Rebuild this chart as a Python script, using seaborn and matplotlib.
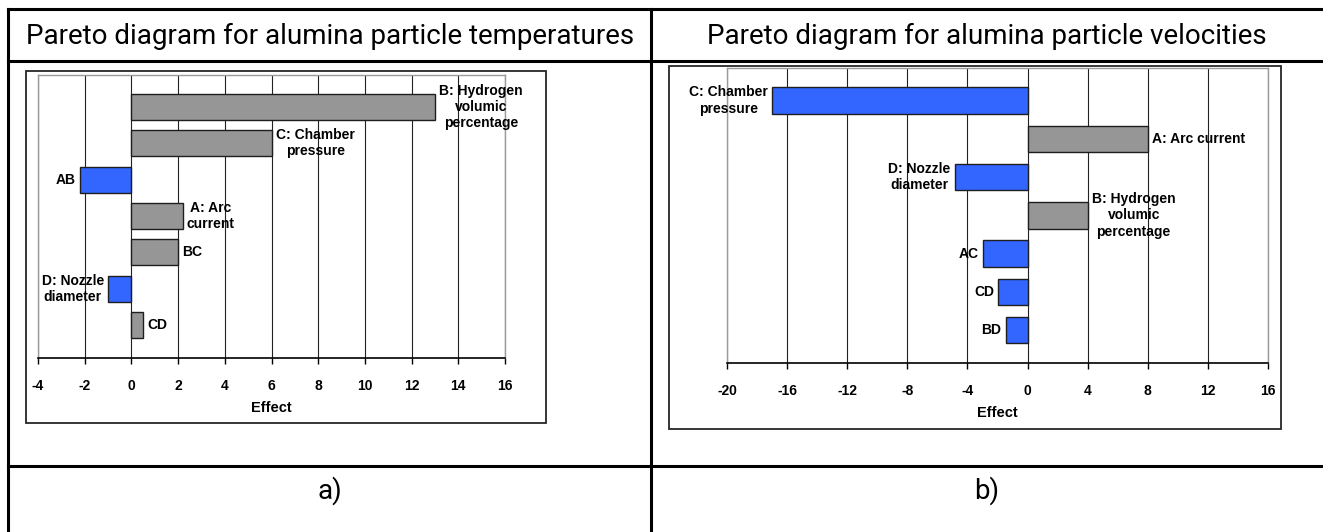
import matplotlib
matplotlib.use("Agg")
import matplotlib.pyplot as plt
import seaborn as sns
import pandas as pd
from matplotlib.lines import Line2D
from matplotlib.patches import Rectangle

# effects
temp_effects = ["B: Hydrogen\nvolumic\npercentage", "C: Chamber\npressure", "AB",
                "A: Arc\ncurrent", "BC", "D: Nozzle\ndiameter", "CD"]
temp_values = [13.0, 6.0, -2.2, 2.2, 2.0, -1.0, 0.5]
temp_ticks = [-4, -2, 0, 2, 4, 6, 8, 10, 12, 14, 16]

vel_effects = ["C: Chamber\npressure", "A: Arc current", "D: Nozzle\ndiameter",
               "B: Hydrogen\nvolumic\npercentage", "AC", "CD", "BD"]
vel_values = [-17.0, 8.0, -4.85, 4.0, -2.95, -1.95, -1.45]
vel_ticks = [-20, -16, -12, -8, -4, 0, 4, 8, 12, 16]

titles = ["Pareto diagram for alumina particle temperatures",
          "Pareto diagram for alumina particle velocities"]
tags = ["a)", "b)"]

BLUE = "#3366FF"
GRAY = "#969696"

W, H = 1323, 532
sns.set_theme(style="white")
plt.rcParams['font.family'] = ['Liberation Sans', 'DejaVu Sans']
plt.rcParams['axes.unicode_minus'] = False
plt.rcParams['text.color'] = 'black'
plt.rcParams['xtick.color'] = 'black'
plt.rcParams['axes.labelcolor'] = 'black'
NARROW = ['Liberation Sans Narrow', 'Roboto', 'DejaVu Sans']

fig = plt.figure(figsize=(W / 100, H / 100), dpi=100)


def fx(x):
    return x / W


def fy(y):
    return 1 - y / H


def rect(l, t, r, b):
    return [fx(l), fy(b), fx(r) - fx(l), fy(t) - fy(b)]


# table grid
for x0, y0, x1, y1 in [(8, 9, W, 9), (8, 61, W, 61), (8, 466, W, 466),
                       (8, 9, 8, H), (651, 9, 651, H)]:
    fig.add_artist(Line2D([fx(x0), fx(x1)], [fy(y0), fy(y1)], transform=fig.transFigure,
                          color="black", lw=2.2, solid_capstyle="projecting"))

# header and tag text
for cx, title, tag in zip([330, 987], titles, tags):
    fig.text(fx(cx), fy(36), title, ha="center", va="center", fontsize=20,
             family=NARROW, fontstretch="condensed")
    fig.text(fx(cx), fy(491), tag, ha="center", va="center", fontsize=20,
             family=NARROW, fontstretch="condensed")

# chart frames
for l, t, r, b in [(26, 71, 546, 423), (669, 66, 1281, 429)]:
    fig.add_artist(Rectangle((fx(l), fy(b)), fx(r) - fx(l), fy(t) - fy(b), transform=fig.transFigure,
                             fill=False, ec="#262626", lw=1.3))


def pareto(ax, labels, values, ticks, ylim, width):
    df = pd.DataFrame({"effect": labels, "value": values})
    colors = [BLUE if v < 0 else GRAY for v in values]
    sns.barplot(data=df, x="value", y="effect", hue="effect", palette=colors, legend=False,
                orient="h", width=width, edgecolor="#1e1e1e", linewidth=1.0, saturation=1, ax=ax)
    for i, (lab, v) in enumerate(zip(labels, values)):
        ax.annotate(lab, xy=(v, i), xytext=(3 if v > 0 else -3, 0), textcoords="offset points",
                    ha="left" if v > 0 else "right", va="center", multialignment="center",
                    fontsize=10, fontweight="bold", annotation_clip=False)
    ax.set_xlim(ticks[0], ticks[-1])
    ax.set_xticks(ticks)
    ax.set_ylim(ylim)
    ax.set_yticks([])
    ax.set_ylabel("")
    ax.grid(axis="x", color="#222222", lw=0.8)
    ax.set_axisbelow(True)
    for s in ["top", "left", "right"]:
        ax.spines[s].set_color("#9a9a9a")
        ax.spines[s].set_linewidth(1.0)
    ax.spines["bottom"].set_color("black")
    ax.spines["bottom"].set_linewidth(1.2)
    ax.tick_params(axis="x", direction="out", bottom=True, length=4, width=1, color="black",
                   pad=11, labelsize=10)
    for t in ax.get_xticklabels():
        t.set_fontweight("bold")
    ax.set_xlabel("Effect", fontsize=10.5, fontweight="bold", labelpad=6)


ax1 = fig.add_axes(rect(38, 75, 505, 358))
pareto(ax1, temp_effects, temp_values, temp_ticks, (6.91, -0.88), 0.72)

ax2 = fig.add_axes(rect(727, 68, 1268, 363))
pareto(ax2, vel_effects, vel_values, vel_ticks, (6.86, -0.85), 0.69)

fig.savefig("out.png", dpi=100)
